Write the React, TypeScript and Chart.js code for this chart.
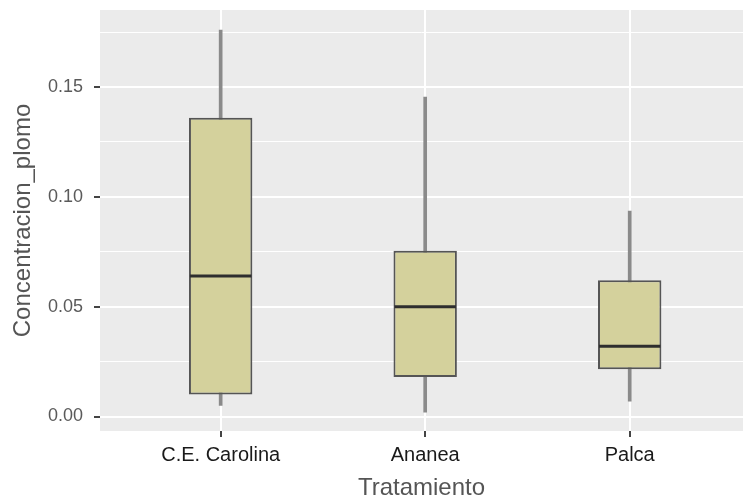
import React, { useEffect, useRef } from "react";
import { Chart, registerables } from "chart.js";

Chart.register(...registerables);

const categories = ["C.E. Carolina", "Ananea", "Palca"];
const whiskerLow = [0.005, 0.002, 0.007];
const q1 = [0.01, 0.018, 0.0215];
const median = [0.064, 0.05, 0.032];
const q3 = [0.136, 0.0755, 0.062];
const whiskerHigh = [0.176, 0.1455, 0.0935];
const yTicks = [0, 0.025, 0.05, 0.075, 0.1, 0.125, 0.15, 0.175];
const yMajor = [0, 0.05, 0.1, 0.15];
const boxWidth = 0.31;

const isMajor = (v: number) => yMajor.some((m) => Math.abs(m - v) < 1e-9);

const panelBg = {
  id: "panelBg",
  beforeDraw(chart: any) {
    const { ctx, chartArea } = chart;
    ctx.save();
    ctx.fillStyle = "#EBEBEB";
    ctx.fillRect(chartArea.left, chartArea.top, chartArea.right - chartArea.left, chartArea.bottom - chartArea.top);
    ctx.restore();
  },
};

export default function App() {
  const ref = useRef<HTMLCanvasElement | null>(null);
  useEffect(() => {
    if (!ref.current) return;
    const chart = new Chart(ref.current, {
      type: "bar",
      data: {
        datasets: [
          {
            type: "scatter",
            order: 0,
            data: categories.map((_, i) => ({ x: i, y: median[i] })),
            pointStyle: "line",
            pointRadius: (ctx: any) => {
              const s = ctx.chart.scales.x;
              return Math.abs(s.getPixelForValue(boxWidth / 2) - s.getPixelForValue(0)) - 1;
            },
            pointHoverRadius: 0,
            borderColor: "#2e2e2e",
            pointBorderWidth: 3,
            borderWidth: 3,
          } as any,
          {
            type: "bar",
            order: 1,
            grouped: false,
            data: categories.map((_, i) => ({ x: i, y: [q1[i], q3[i]] })),
            backgroundColor: "#D4D19C",
            borderColor: "#555555",
            borderWidth: 2,
            borderSkipped: false,
            categoryPercentage: boxWidth,
            barPercentage: 1,
          } as any,
          {
            type: "bar",
            order: 2,
            grouped: false,
            data: categories.map((_, i) => ({ x: i, y: [whiskerLow[i], whiskerHigh[i]] })),
            backgroundColor: "#8a8a8a",
            borderWidth: 0,
            barThickness: 3,
          } as any,
        ],
      },
      options: {
        responsive: false,
        animation: false,
        events: [],
        layout: { padding: { top: 10, right: 0, left: 0, bottom: 0 } },
        plugins: { legend: { display: false }, tooltip: { enabled: false } },
        scales: {
          x: {
            type: "linear",
            min: -0.59,
            max: 2.554,
            offset: false,
            afterBuildTicks: (s: any) => {
              s.ticks = categories.map((_, i) => ({ value: i }));
            },
            afterFit: (s: any) => {
              s.height = 70;
              s.paddingLeft = 0;
              s.paddingRight = 0;
            },
            border: { display: false },
            grid: {
              offset: false,
              color: "#ffffff",
              lineWidth: 2,
              tickLength: 6,
              tickColor: "#444444",
              tickWidth: 2,
            },
            ticks: {
              padding: 6,
              color: "#1a1a1a",
              font: { family: "Liberation Sans, Arial, sans-serif", size: 20 },
              callback: (v: any) => categories[Math.round(Number(v))] ?? "",
              maxRotation: 0,
              autoSkip: false,
            },
            title: {
              display: true,
              text: "Tratamiento",
              color: "#555555",
              font: { family: "Liberation Sans, Arial, sans-serif", size: 24 },
              padding: { top: 0, bottom: -2 },
            },
          },
          y: {
            type: "linear",
            min: -0.0066,
            max: 0.1851,
            afterBuildTicks: (s: any) => {
              s.ticks = yTicks.map((v) => ({ value: v }));
            },
            afterFit: (s: any) => {
              s.width = 100;
              s.paddingTop = 0;
              s.paddingBottom = 0;
            },
            border: { display: false },
            grid: {
              color: "#ffffff",
              lineWidth: (ctx: any) => (ctx.tick && isMajor(ctx.tick.value) ? 2 : 1),
              tickLength: 6,
              tickColor: (ctx: any) => (ctx.tick && isMajor(ctx.tick.value) ? "#444444" : "rgba(0,0,0,0)"),
              tickWidth: 2,
            },
            ticks: {
              padding: 11,
              color: "#5a5a5a",
              font: { family: "Liberation Sans, Arial, sans-serif", size: 18 },
              callback: (v: any) => (isMajor(Number(v)) ? Number(v).toFixed(2) : ""),
              autoSkip: false,
            },
            title: {
              display: true,
              text: "Concentracion_plomo",
              color: "#555555",
              font: { family: "Liberation Sans, Arial, sans-serif", size: 24 },
              padding: { top: 9, bottom: 0 },
            },
          },
        },
      } as any,
      plugins: [panelBg],
    });
    return () => chart.destroy();
  }, []);
  return (
    <div style={{ position: "absolute", left: 0, top: 0, width: 743, height: 501, background: "#ffffff" }}>
      <canvas ref={ref} width={743} height={501} />
    </div>
  );
}
